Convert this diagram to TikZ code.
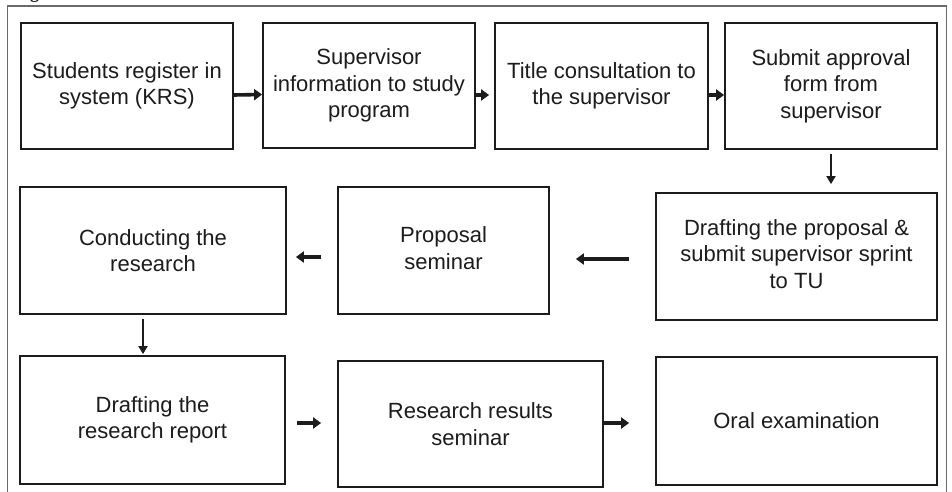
\documentclass[tikz,border=0pt]{standalone}
\usepackage{fontspec}
\setmainfont{Liberation Sans}
\newfontfamily\capfont{Liberation Serif}
\usetikzlibrary{arrows.meta}
\definecolor{ink}{HTML}{1C1C1C}
\definecolor{framegray}{HTML}{6A6A6A}
\tikzset{
  stepbox/.style={draw=ink, line width=1.8pt, fill=white, align=center, text=ink,
    inner sep=4pt, font=\fontsize{22}{26.5}\selectfont},
  thickarrow/.style={draw=ink, line width=3.6pt, -{Triangle[length=8pt,width=11pt]}},
  thinarrow/.style={draw=ink, line width=2pt, -{Triangle[length=8pt,width=9pt]}},
}
\begin{document}
\begin{tikzpicture}[x=1pt,y=-1pt]
\useasboundingbox[fill=white] (0,0) rectangle (952,492);
% caption fragment (clipped at top, as in the reference)
\node[anchor=base west, inner sep=0pt, font=\capfont\bfseries\fontsize{18}{20}\selectfont, text=ink] (cap) at (14,-1) {Fig};
% outer frame
\coordinate (fbl) at (7.5,496);
\coordinate (ftl) at (7.5,6);
\coordinate (ftr) at (946.5,6);
\coordinate (fbr) at (946.5,496);
\draw[framegray, line width=1.4pt] (fbl) -- (ftl) -- (ftr) -- (fbr);
% row 1
\node[stepbox, minimum width=212pt, minimum height=126pt] (b1) at (127,86) {Students register in\\system (KRS)};
\node[stepbox, minimum width=212pt, minimum height=125pt] (b2) at (369,85.5) {Supervisor\\information to study\\program};
\node[stepbox, minimum width=213pt, minimum height=126pt] (b3) at (601.5,86) {Title consultation to\\the supervisor};
\node[stepbox, minimum width=212pt, minimum height=126pt] (b4) at (831,86) {Submit approval\\form from\\supervisor};
% row 2
\node[stepbox, minimum width=281pt, minimum height=127pt] (b5) at (796.5,256.5) {\raisebox{-4pt}{\begin{tabular}{@{}c@{}}Drafting the proposal \&\\submit supervisor sprint\\to TU\end{tabular}}};
\node[stepbox, minimum width=211pt, minimum height=127pt] (b6) at (443.5,250.5) {\raisebox{-3pt}{\begin{tabular}{@{}c@{}}Proposal\\seminar\end{tabular}}};
\node[stepbox, minimum width=266pt, minimum height=127pt] (b7) at (153,250.5) {Conducting the\\research};
% row 3
\node[stepbox, minimum width=265pt, minimum height=128pt] (b8) at (152.5,420) {Drafting the\\research report};
\node[stepbox, minimum width=265pt, minimum height=126pt] (b9) at (470.5,424) {Research results\\seminar};
\node[stepbox, minimum width=281pt, minimum height=128pt] (b10) at (796.5,421) {Oral examination};
% connectors
\draw[thickarrow] ([yshift=-9pt]b1.east) -- ([yshift=-9pt]b2.west);
\draw[thickarrow, shorten >=5pt] ([yshift=-9.5pt]b2.east) -- ([yshift=-9.5pt]b2.east -| b3.west);
\draw[thickarrow] ([yshift=-9pt]b3.east) -- ([yshift=-9pt]b4.west);
\draw[thinarrow, shorten <=4pt, shorten >=8pt] (b4.south) -- (b4.south |- b5.north);
\draw[thickarrow, shorten <=26pt, shorten >=26pt] ([yshift=-2.5pt]b5.west) -- ([yshift=-2.5pt]b5.west -| b6.east);
\draw[thickarrow, shorten <=16pt, shorten >=9pt] ([yshift=-6.5pt]b6.west) -- ([yshift=-6.5pt]b6.west -| b7.east);
\draw[thinarrow, shorten <=4pt, shorten >=1pt] ([xshift=-10pt]b7.south) -- ([xshift=-10pt]b7.south |- b8.north);
\draw[thickarrow, shorten <=11pt, shorten >=16pt] ([yshift=-3pt]b8.east) -- ([yshift=-3pt]b8.east -| b9.west);
\draw[thickarrow, shorten >=26pt] ([yshift=1pt]b9.east) -- ([yshift=1pt]b9.east -| b10.west);
\end{tikzpicture}
\end{document}
